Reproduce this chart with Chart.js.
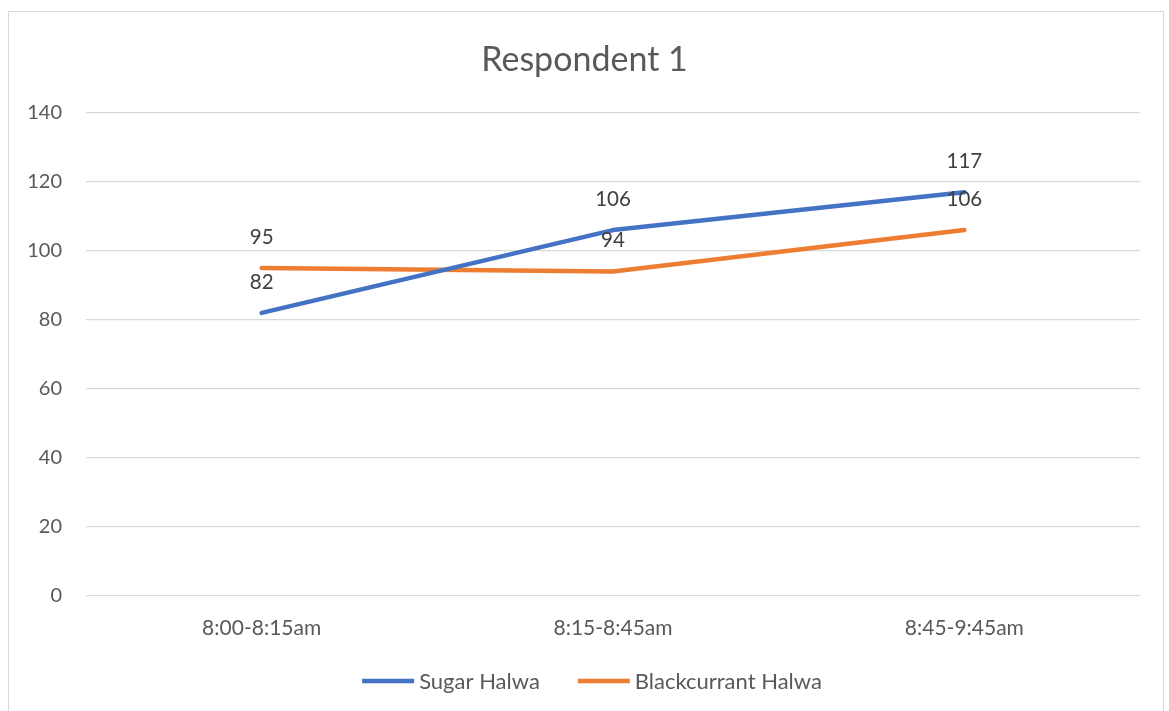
<!DOCTYPE html>
<html>
<head>
<meta charset="utf-8">
<title>Respondent 1</title>
<script src="https://cdn.jsdelivr.net/npm/chart.js@4.4.1/dist/chart.umd.min.js"></script>
<style>
  html, body { margin: 0; padding: 0; background: #ffffff; overflow: hidden; }
  #frame {
    position: absolute; left: 8px; top: 11px; width: 1156px; height: 720px;
    border: 1px solid #d9d9d9; box-sizing: border-box;
  }
  #chart { position: absolute; left: 0; top: 0; }
</style>
</head>
<body>
<div id="frame"></div>
<canvas id="chart" width="1169" height="711"></canvas>
<script>
// Time slots on the category axis
const categories = ['8:00-8:15am', '8:15-8:45am', '8:45-9:45am'];

// Readings for each halwa
const sugarHalwa = [82, 106, 117];
const blackcurrantHalwa = [95, 94, 106];

// Value axis
const yTicks = [0, 20, 40, 60, 80, 100, 120, 140];

const seriesNames = ['Sugar Halwa', 'Blackcurrant Halwa'];
const seriesColors = ['#4472C4', '#ED7D31'];

const FONT = 'Lato, "Open Sans", sans-serif';
const TEXT_GRAY = '#595959';

// Value labels drawn above every point
const valueLabels = {
  id: 'valueLabels',
  afterDatasetsDraw(chart) {
    const ctx = chart.ctx;
    ctx.save();
    ctx.font = '20.5px ' + FONT;
    ctx.fillStyle = '#404040';
    ctx.textAlign = 'center';
    ctx.textBaseline = 'middle';
    chart.data.datasets.forEach((ds, i) => {
      const meta = chart.getDatasetMeta(i);
      meta.data.forEach((pt, j) => {
        ctx.fillText(String(ds.data[j]), pt.x, pt.y - 31);
      });
    });
    ctx.restore();
  }
};

// Line-sample legend under the axis labels
const lineLegend = {
  id: 'lineLegend',
  afterDraw(chart) {
    const ctx = chart.ctx;
    const sample = 52, gap = 5, spacing = 38, cy = 681;
    ctx.save();
    ctx.font = '22px ' + FONT;
    ctx.textBaseline = 'middle';
    ctx.textAlign = 'left';
    const items = chart.data.datasets.map(ds => ({
      label: ds.label, color: ds.borderColor, w: ctx.measureText(ds.label).width
    }));
    const total = items.reduce((s, it) => s + sample + gap + it.w, 0) + spacing * (items.length - 1);
    let x = 592 - total / 2;
    items.forEach(it => {
      ctx.strokeStyle = it.color;
      ctx.lineWidth = 4.5;
      ctx.lineCap = 'butt';
      ctx.beginPath();
      ctx.moveTo(x, cy);
      ctx.lineTo(x + sample, cy);
      ctx.stroke();
      ctx.fillStyle = TEXT_GRAY;
      ctx.fillText(it.label, x + sample + gap, cy + 1);
      x += sample + gap + it.w + spacing;
    });
    ctx.restore();
  }
};

new Chart(document.getElementById('chart'), {
  type: 'line',
  data: {
    labels: categories,
    datasets: [
      { label: seriesNames[0], data: sugarHalwa, borderColor: seriesColors[0], backgroundColor: seriesColors[0] },
      { label: seriesNames[1], data: blackcurrantHalwa, borderColor: seriesColors[1], backgroundColor: seriesColors[1] }
    ]
  },
  options: {
    responsive: false,
    animation: false,
    devicePixelRatio: 1,
    elements: {
      line: { borderWidth: 4.5, tension: 0, borderCapStyle: 'round', borderJoinStyle: 'round', fill: false },
      point: { radius: 0, hoverRadius: 0 }
    },
    layout: { padding: { left: 0, right: 0, top: 0, bottom: 50 } },
    plugins: {
      legend: { display: false },
      tooltip: { enabled: false },
      title: {
        display: true,
        text: 'Respondent 1',
        color: TEXT_GRAY,
        font: { family: FONT, size: 34, weight: 'normal' },
        padding: { top: 40, bottom: 32 }
      }
    },
    scales: {
      x: {
        offset: true,
        grid: { display: false, drawTicks: false },
        border: { display: false },
        ticks: {
          color: TEXT_GRAY,
          font: { family: FONT, size: 21 },
          padding: 20,
          maxRotation: 0,
          autoSkip: false
        }
      },
      y: {
        min: yTicks[0],
        max: yTicks[yTicks.length - 1],
        afterBuildTicks(scale) { scale.ticks = yTicks.map(v => ({ value: v })); },
        afterFit(scale) { scale.width = 86; },
        grid: { color: '#d9d9d9', lineWidth: 1.2, drawTicks: false },
        border: { display: false },
        ticks: {
          color: TEXT_GRAY,
          font: { family: FONT, size: 20 },
          padding: 24
        }
      },
      // empty right-hand margin beside the plot
      yRight: {
        position: 'right',
        afterFit(scale) { scale.width = 29; },
        grid: { display: false, drawTicks: false },
        border: { display: false },
        ticks: { display: false }
      }
    }
  },
  plugins: [valueLabels, lineLegend]
});
</script>
</body>
</html>
